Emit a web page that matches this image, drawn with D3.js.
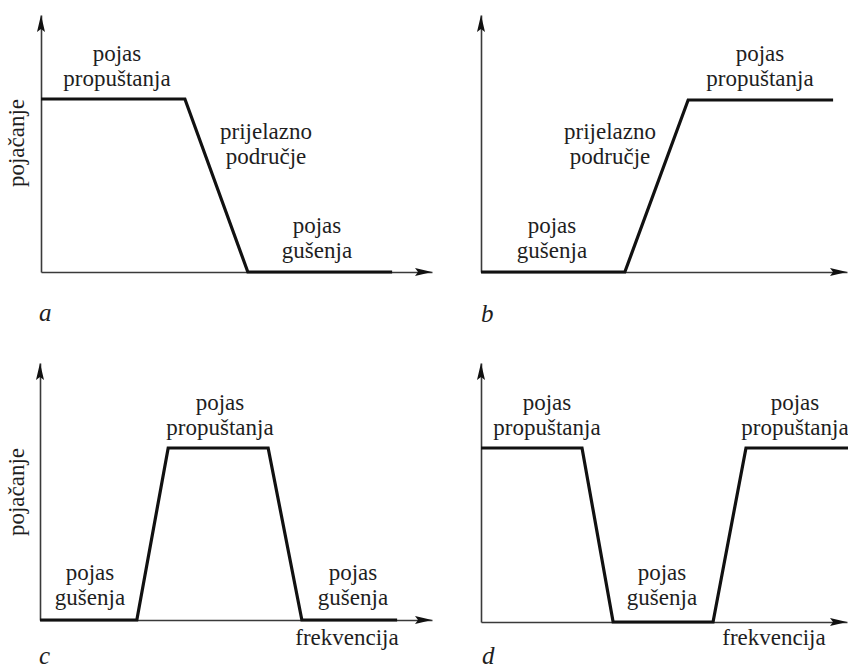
<!DOCTYPE html>
<html><head><meta charset="utf-8">
<script src="https://cdn.jsdelivr.net/npm/d3@7"></script>
<style>
body{margin:0;background:#fff}
svg{display:block}
</style>
</head><body>
<svg id="chart" width="848" height="668"></svg>
<script>
// ---- data (normalised frequency 0..100, gain 0..1) ----
const panelIds = ["a", "b", "c", "d"];
const freqA = [0, 36.8, 52.9, 89.8];
const gainA = [1, 1, 0, 0];
const freqB = [0, 39.3, 56.6, 96.2];
const gainB = [0, 0, 1, 1];
const freqC = [0, 24.7, 32.7, 58.2, 66.8, 91.1];
const gainC = [0, 0, 1, 1, 0, 0];
const freqD = [0, 27.6, 36.1, 63.4, 72.4, 100.5];
const gainD = [1, 1, 0, 0, 1, 1];
const labelsA = [["pojas", "propuštanja"], ["prijelazno", "područje"], ["pojas", "gušenja"]];
const labelsB = [["pojas", "propuštanja"], ["prijelazno", "područje"], ["pojas", "gušenja"]];
const labelsC = [["pojas", "propuštanja"], ["pojas", "gušenja"], ["pojas", "gušenja"]];
const labelsD = [["pojas", "propuštanja"], ["pojas", "propuštanja"], ["pojas", "gušenja"]];
const yAxisTitle = "pojačanje";
const xAxisTitle = "frekvencija";

// ---- layout ----
const layout = {
  a: {x0: 41, x1: 432, y0: 272, yTop: 15, yPass: 99, freq: freqA, gain: gainA, labels: labelsA,
      labelPos: [[117, 61], [266, 139], [317, 233]], yTitle: [24, 143], xTitle: null, letter: [39, 321]},
  b: {x0: 481, x1: 847, y0: 272, yTop: 15, yPass: 100, freq: freqB, gain: gainB, labels: labelsB,
      labelPos: [[760, 61], [610, 139], [552, 233]], yTitle: null, xTitle: null, letter: [481, 322]},
  c: {x0: 40, x1: 432, y0: 620, yTop: 363, yPass: 448, freq: freqC, gain: gainC, labels: labelsC,
      labelPos: [[220, 410], [90, 580], [353, 580]], yTitle: [24, 492], xTitle: [347, 645], letter: [39, 664]},
  d: {x0: 481, x1: 847, y0: 622, yTop: 363, yPass: 448, freq: freqD, gain: gainD, labels: labelsD,
      labelPos: [[547, 410], [795, 410], [662, 580]], yTitle: null, xTitle: [774, 645], letter: [482, 664]}
};

const FONT = '"Liberation Serif", "Tinos", "Times New Roman", "Nimbus Roman", "Noto Serif", "DejaVu Serif", "FreeSerif", Times, serif';
const svg = d3.select("#chart");
const FS = 23, LH = 25;

panelIds.forEach(id => {
  const L = layout[id];
  const g = svg.append("g");
  const x = d3.scaleLinear().domain([0, 100]).range([L.x0, L.x1]);
  const y = d3.scaleLinear().domain([0, 1]).range([L.y0, L.yPass]);
  const yAx = y.copy().domain([0, y.invert(L.yTop)]).range([L.y0, L.yTop]);

  // axes (no ticks)
  g.append("g").attr("transform", `translate(0,${L.y0})`)
    .call(d3.axisBottom(x).tickValues([]).tickSizeOuter(0));
  g.append("g").attr("transform", `translate(${L.x0},0)`)
    .call(d3.axisLeft(yAx).tickValues([]).tickSizeOuter(0));
  g.selectAll(".domain").attr("stroke", "#3a3a3a").attr("stroke-width", 1.6);

  // arrowheads
  const xe = x.range()[1], yt = yAx.range()[1];
  g.append("path").attr("d", `M${xe},${L.y0} L${xe - 17},${L.y0 - 4} L${xe - 14},${L.y0} L${xe - 17},${L.y0 + 4} Z`)
    .attr("fill", "#111");
  g.append("path").attr("d", `M${L.x0},${yt} L${L.x0 - 4},${yt + 17} L${L.x0},${yt + 14} L${L.x0 + 4},${yt + 17} Z`)
    .attr("fill", "#111");

  // response curve
  const pts = L.freq.map((f, i) => [f, L.gain[i]]);
  g.append("path").datum(pts)
    .attr("d", d3.line().x(d => x(d[0])).y(d => y(d[1])))
    .attr("fill", "none").attr("stroke", "#111").attr("stroke-width", 3.2)
    .attr("stroke-linejoin", "miter");

  // labels
  L.labels.forEach((lines, i) => {
    const [lx, ly] = L.labelPos[i];
    const t = g.append("text").attr("text-anchor", "middle").attr("font-size", FS)
      .style("font-family", FONT).attr("fill", "#1e1e1e");
    lines.forEach((s, j) => t.append("tspan").attr("x", lx).attr("y", ly + j * LH).text(s));
  });

  if (L.yTitle) {
    g.append("text").attr("text-anchor", "middle").attr("font-size", FS)
      .style("font-family", FONT).attr("fill", "#1e1e1e")
      .attr("transform", `translate(${L.yTitle[0]},${L.yTitle[1]}) rotate(-90)`).text(yAxisTitle);
  }
  if (L.xTitle) {
    g.append("text").attr("text-anchor", "middle").attr("font-size", FS)
      .style("font-family", FONT).attr("fill", "#1e1e1e")
      .attr("x", L.xTitle[0]).attr("y", L.xTitle[1]).text(xAxisTitle);
  }
  g.append("text").attr("font-size", 25).attr("font-style", "italic")
    .style("font-family", FONT).attr("fill", "#1e1e1e")
    .attr("x", L.letter[0]).attr("y", L.letter[1]).text(id);
});
</script>
</body></html>
